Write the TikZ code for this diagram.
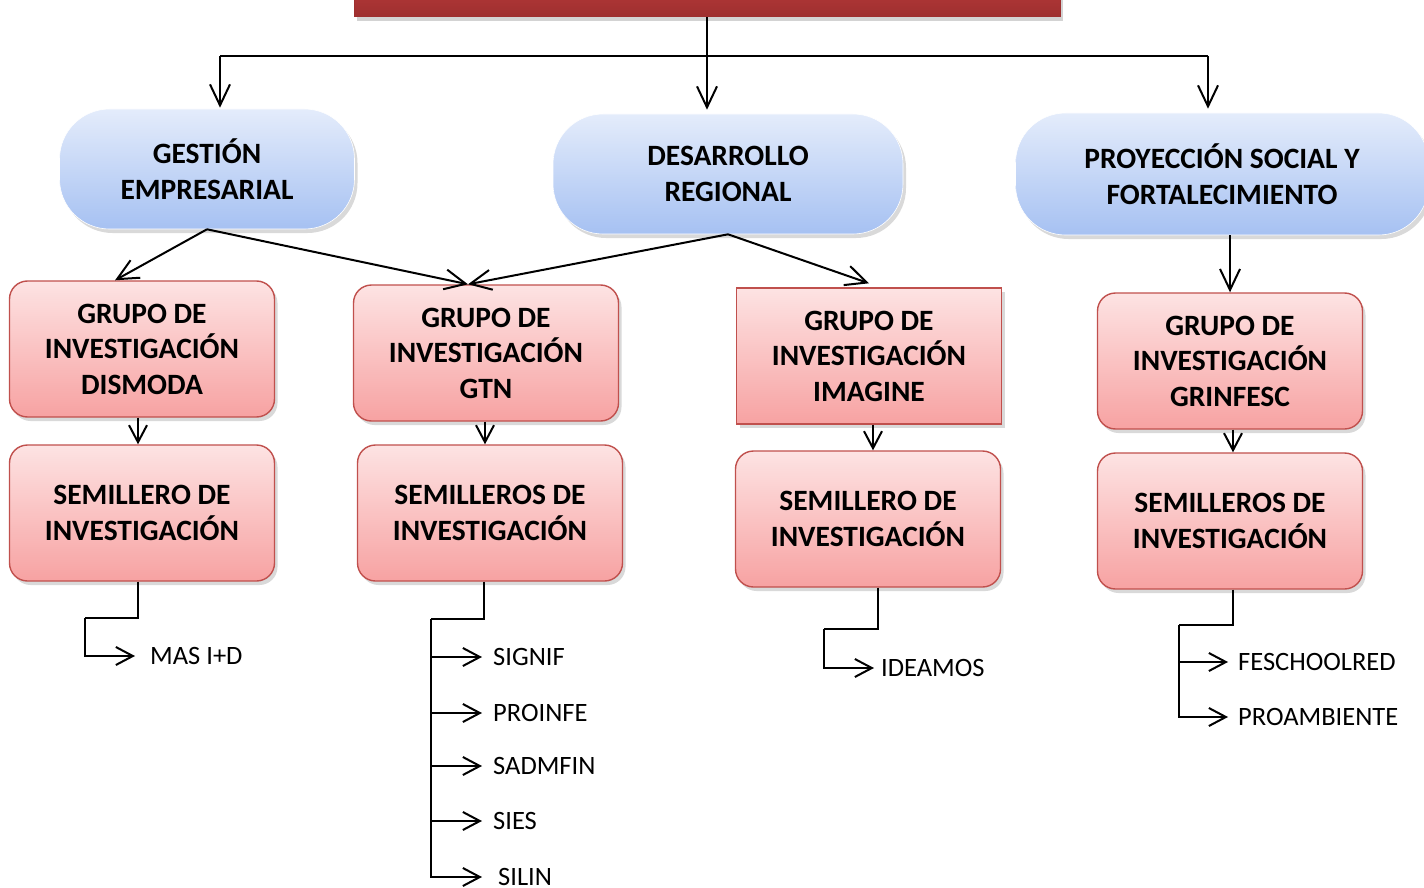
\documentclass[tikz,border=0pt]{standalone}
\usepackage{fontspec}
\setmainfont{Carlito}
\usepackage{tikz}
\usetikzlibrary{positioning,arrows.meta,shadows}
\definecolor{titlered}{HTML}{B93B3B}
\definecolor{titledark}{HTML}{9E2F2F}
\definecolor{pilltop}{HTML}{E4ECFB}
\definecolor{pillbot}{HTML}{A6C1F2}
\definecolor{rosetop}{HTML}{FDE3E3}
\definecolor{rosebot}{HTML}{F7A2A2}
\definecolor{roseline}{HTML}{C0504D}

\tikzset{
  flecha/.style={-{Straight Barb[length=21pt,width=20pt,line width=2pt]}, line width=2pt},
  flechita/.style={-{Straight Barb[length=17pt,width=18pt,line width=2pt]}, line width=2pt},
  area/.style={shade, top color=pilltop, bottom color=pillbot, draw=white, line width=0.6pt,
    rounded corners=50pt, minimum height=120pt, align=center,
    font=\fontsize{29.5}{35.5}\selectfont\bfseries,
    drop shadow={shadow xshift=3pt, shadow yshift=-4pt, opacity=0.3}},
  grupo/.style={shade, top color=rosetop, bottom color=rosebot, draw=roseline, line width=1.4pt,
    rounded corners=18pt, minimum width=265pt, minimum height=136pt, align=center,
    font=\fontsize{29.5}{35.5}\selectfont\bfseries,
    drop shadow={shadow xshift=3pt, shadow yshift=-4pt, opacity=0.3}},
  item/.style={anchor=west, inner xsep=11pt, font=\fontsize{26.5}{31}\selectfont}
}

\begin{document}
\begin{tikzpicture}[x=1pt,y=-1pt]
\useasboundingbox (0,0) rectangle (1424,888);

% titulo (cortado arriba)
\node[shade, top color=titlered, bottom color=titledark, draw=titledark, line width=1pt,
      minimum width=706pt, minimum height=38pt,
      drop shadow={shadow xshift=3pt, shadow yshift=-4pt, opacity=0.35}] (top) at (707,-2) {};

% areas
\node[area, minimum width=295pt] (gestion) at (207,169) {GESTIÓN\\EMPRESARIAL};
\node[area, minimum width=350pt] (desarrollo) at (728,174) {DESARROLLO\\REGIONAL};
\node[area, minimum width=413pt, minimum height=122pt] (proyeccion) at (1222,174) {PROYECCIÓN SOCIAL Y\\FORTALECIMIENTO};

% grupos
\node[grupo] (dismoda) at (142,349) {GRUPO DE\\INVESTIGACIÓN\\DISMODA};
\node[grupo] (gtn) at (486,353) {GRUPO DE\\INVESTIGACIÓN\\GTN};
\node[grupo, rounded corners=0pt] (imagine) at (869,356) {GRUPO DE\\INVESTIGACIÓN\\IMAGINE};
\node[grupo] (grinfesc) at (1230,361) {GRUPO DE\\INVESTIGACIÓN\\GRINFESC};

% semilleros
\node[grupo] (semA) at (142,513) {SEMILLERO DE\\INVESTIGACIÓN};
\node[grupo] (semB) at (490,513) {SEMILLEROS DE\\INVESTIGACIÓN};
\node[grupo] (semC) at (868,519) {SEMILLERO DE\\INVESTIGACIÓN};
\node[grupo] (semD) at (1230,521) {SEMILLEROS DE\\INVESTIGACIÓN};

% titulo -> areas
\coordinate (busL) at (220,56);
\coordinate (busR) at (1208,56);
\draw[line width=2pt] (busL) -- (busR);
\draw[flecha] (top.south) -- ([yshift=4pt]top.south |- desarrollo.north);
\draw[flecha] (busL) -- ([yshift=1pt]busL |- gestion.north);
\draw[flecha] (busR) -- ([yshift=4pt]busR |- proyeccion.north);

% areas -> grupos
\draw[flecha] (gestion.south) -- ([xshift=-27pt]dismoda.north);
\draw[flecha] (gestion.south) -- ([xshift=-18pt]gtn.north);
\draw[flecha] (desarrollo.south) -- ([xshift=-18pt]gtn.north);
\draw[flecha] (desarrollo.south) -- ([yshift=4pt]imagine.north);
\draw[flecha] (proyeccion.south -| grinfesc.north) -- (grinfesc.north);

% grupos -> semilleros
\draw[flechita] ([xshift=-4pt]dismoda.south) -- ([xshift=-4pt]semA.north);
\draw[flechita] ([xshift=-1pt]gtn.south) -- ([xshift=-5pt]semB.north);
\draw[flechita] ([xshift=4pt]imagine.south) -- ([xshift=5pt]semC.north);
\draw[flechita] ([xshift=3pt]grinfesc.south) -- ([xshift=3pt]semD.north);

% semilleros
\node[item, inner xsep=15pt] (mas) at (135,656) {MAS I+D};
\node[item] (signif) at (482,657) {SIGNIF};
\node[item] (proinfe) at (482,713) {PROINFE};
\node[item] (sadmfin) at (482,766) {SADMFIN};
\node[item] (sies) at (482,821) {SIES};
\node[item, inner xsep=16pt] (silin) at (482,877) {SILIN};
\node[item, inner xsep=7pt] (ideamos) at (874,668) {IDEAMOS};
\node[item, inner xsep=10pt] (feschool) at (1228,662) {FESCHOOLRED};
\node[item, inner xsep=10pt] (proamb) at (1228,717) {PROAMBIENTE};

\coordinate (busA) at (85,618);
\coordinate (busB) at (431,619);
\coordinate (busC) at (824,629);
\coordinate (busD) at (1179,625);

\draw[line width=2pt] ([xshift=-4pt]semA.south) |- (busA);
\draw[flechita] (busA) |- (mas.west);

\draw[line width=2pt] ([xshift=-6pt]semB.south) |- (busB);
\foreach \s in {signif,proinfe,sadmfin,sies,silin}
  \draw[flechita] (busB) |- (\s.west);

\draw[line width=2pt] ([xshift=10pt]semC.south) |- (busC);
\draw[flechita] (busC) |- (ideamos.west);

\draw[line width=2pt] ([xshift=3pt]semD.south) |- (busD);
\draw[flechita] (busD) |- (feschool.west);
\draw[flechita] (busD) |- (proamb.west);
\end{tikzpicture}
\end{document}
